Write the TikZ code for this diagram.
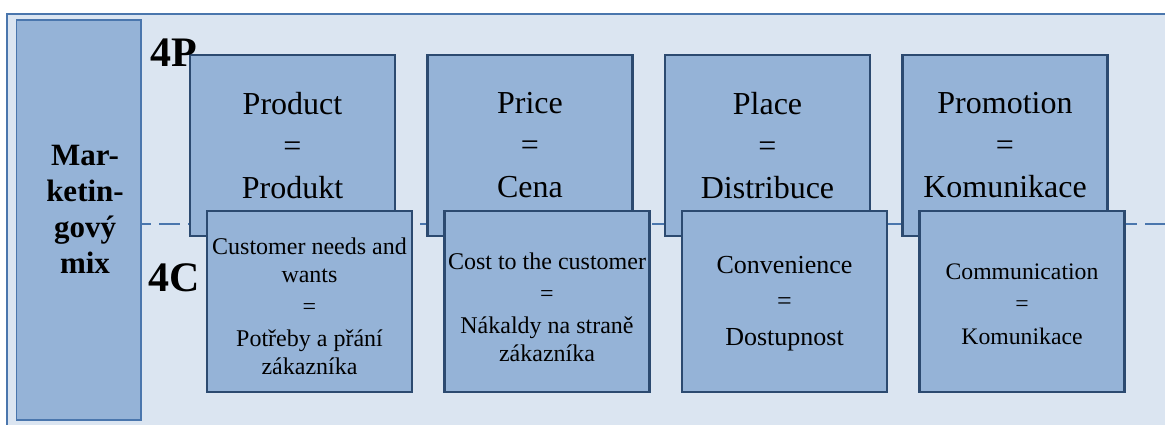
\documentclass[tikz,border=0pt]{standalone}
\usepackage{fontspec}
\setmainfont{Liberation Serif}
\definecolor{bgfill}{HTML}{DBE5F1}
\definecolor{frameline}{HTML}{4A76AD}
\definecolor{boxfill}{HTML}{95B3D7}
\definecolor{boxline}{HTML}{2C4A70}
\begin{document}
\begin{tikzpicture}[x=1pt,y=-1pt,
  panel/.style={fill=bgfill,draw=frameline,line width=2pt},
  mixbox/.style={fill=boxfill,draw=frameline,line width=1.3pt,minimum width=124.5pt,minimum height=400pt,inner sep=0pt,outer sep=0pt},
  mixlabel/.style={font=\fontsize{31}{36}\selectfont\bfseries,align=center,inner sep=0pt},
  pbox/.style={fill=boxfill,draw=boxline,line width=2.2pt,minimum width=205pt,minimum height=181pt,inner sep=0pt,outer sep=0pt,align=center,font=\fontsize{32}{42}\selectfont},
  cbox/.style={fill=boxfill,draw=boxline,line width=2.2pt,minimum width=205pt,minimum height=181pt,inner sep=0pt,outer sep=0pt},
  ctext/.style={align=center,inner sep=0pt,font=\fontsize{24}{28}\selectfont},
  biglabel/.style={font=\fontsize{42}{42}\selectfont\bfseries,inner sep=0pt,anchor=base west},
  dashline/.style={draw=frameline,line width=2pt,dash pattern=on 21pt off 8pt,dash phase=11pt}
]
\useasboundingbox (0,0) rectangle (1165,424);
% background panel
\draw[panel] (7,14) rectangle (1180,440);
% dividing line between 4P and 4C
\coordinate (dashstart) at (141,224);
\coordinate (dashend) at (1170,224);
\draw[dashline] (dashstart) -- (dashend);
% marketing mix column
\node[mixbox] (mix) at (78.75,220) {};
\node[mixlabel] (mixtext) at (85,209) {Mar-\\ketin-\\gový\\mix};
% the 4P row
\node[pbox] (product) at (292.5,145.5) {Product\\=\\Produkt};
\node[pbox] (price) at (530,145.5) {Price\\=\\Cena};
\node[pbox] (place) at (767.5,145.5) {Place\\=\\Distribuce};
\node[pbox] (promotion) at (1005,145.5) {Promotion\\=\\Komunikace};
% the 4C row
\node[cbox] (customer) at (309.5,301.5) {};
\node[cbox] (cost) at (547,301.5) {};
\node[cbox] (convenience) at (784.5,301.5) {};
\node[cbox] (communication) at (1022,301.5) {};
\node[ctext] (customertext) at ([yshift=-5pt]customer.center)
  {Customer needs and\\wants\\[4pt]=\\[4pt]Potřeby a přání\\zákazníka};
\node[ctext] (costtext) at ([yshift=-6pt]cost.center)
  {Cost to the customer\\[4pt]=\\[4pt]Nákaldy na straně\\zákazníka};
\node[ctext,font=\fontsize{26}{36}\selectfont] (conveniencetext) at ([yshift=-2.5pt]convenience.center)
  {Convenience\\=\\Dostupnost};
\node[ctext,font=\fontsize{23.7}{32.5}\selectfont] (communicationtext) at ([yshift=-2.5pt]communication.center)
  {Communication\\=\\Komunikace};
% row labels
\node[biglabel] (fourP) at (150,66) {4P};
\node[biglabel] (fourC) at (148,291) {4C};
\end{tikzpicture}
\end{document}
